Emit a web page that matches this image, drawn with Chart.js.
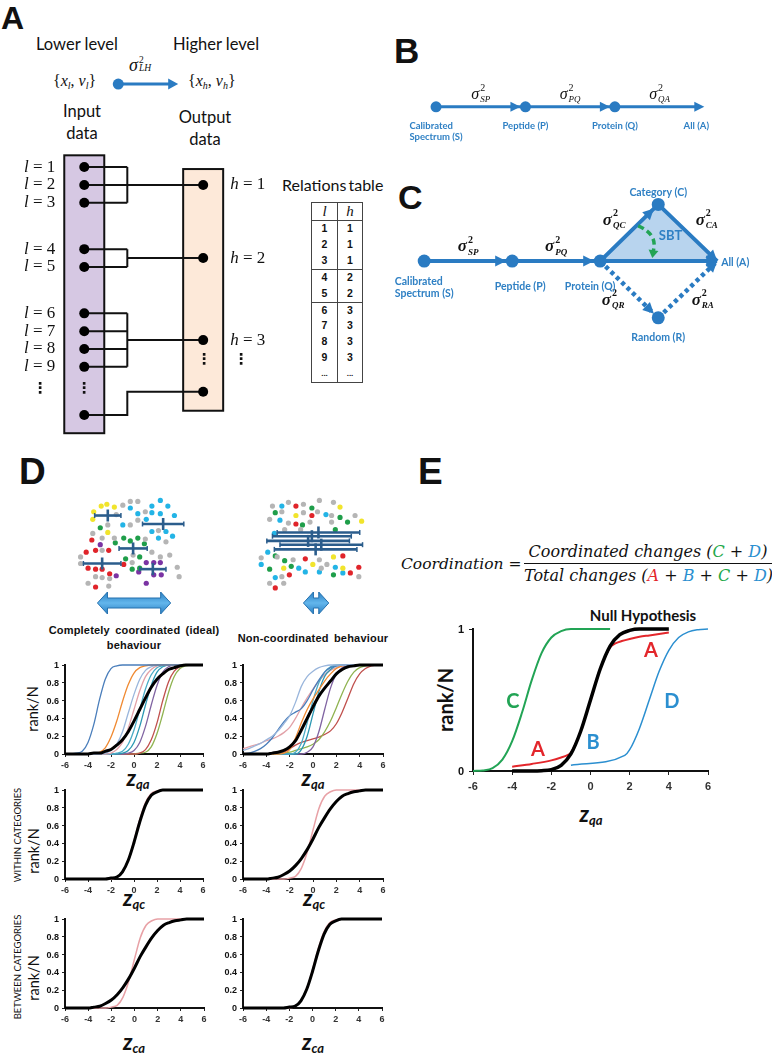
<!DOCTYPE html>
<html lang="en">
<head>
<meta charset="utf-8">
<title>Coordination figure</title>
<script src="https://cdn.jsdelivr.net/npm/chart.js@4.4.1/dist/chart.umd.min.js"></script>
<style>
html,body{margin:0;padding:0;background:#fff}
body{width:772px;height:1055px;position:relative;overflow:hidden;color:#111;font-family:'Liberation Sans',Arial,sans-serif}
.p{position:absolute;white-space:nowrap;line-height:1}
.cc{transform:translate(-50%,-50%)}
.lc{transform:translateY(-50%)}
.rot{transform:translate(-50%,-50%) rotate(-90deg)}
.let{font-weight:bold;font-family:'Liberation Sans',Arial,sans-serif}
.cal{font-family:Lato,'Open Sans',sans-serif}
.ser{font-family:'Liberation Serif','Times New Roman',serif}
.zl{font-family:Lato,sans-serif;font-weight:bold;font-style:italic;font-size:22px}
.zl sub{font-size:13px;vertical-align:-3px}
.dt{font-weight:bold;font-size:11px;word-spacing:2px;letter-spacing:0.2px}
.fm{font-family:'DejaVu Serif',serif;font-style:italic;font-size:16px}
.yl{position:absolute;white-space:nowrap;line-height:1;text-align:right;width:24px;color:#111;font-weight:bold;font-family:'Liberation Sans',Arial,sans-serif;transform:translateY(-50%);z-index:5}
table.rel{position:absolute;left:311px;top:202px;border-collapse:collapse;border:1.2px solid #444;font:bold 10.5px 'Liberation Sans',Arial,sans-serif}
table.rel td,table.rel th{padding:0;text-align:center;height:15.9px;line-height:15.9px}
canvas{position:absolute}
</style>
</head>
<body>
<!-- panel letters -->
<div class="p lc let" style="left:1px;top:18px;font-size:32px">A</div>
<div class="p lc let" style="left:394px;top:50px;font-size:35px">B</div>
<div class="p lc let" style="left:398px;top:197px;font-size:34px">C</div>
<div class="p lc let" style="left:19px;top:471px;font-size:37px">D</div>
<div class="p lc let" style="left:418px;top:471px;font-size:37px">E</div>

<!-- panel A texts -->
<div class="p lc cal" style="left:36px;top:44px;font-size:16.5px">Lower level</div>
<div class="p lc cal" style="left:173px;top:44px;font-size:16.5px">Higher level</div>
<div class="p lc ser" style="left:53px;top:82px;font-size:16px">{<i>x</i><span style="font-size:10px;vertical-align:-3px"><i>l</i></span>, <i>v</i><span style="font-size:10px;vertical-align:-3px"><i>l</i></span>}</div>
<div class="p lc ser" style="left:188px;top:82px;font-size:16px">{<i>x</i><span style="font-size:10px;vertical-align:-3px"><i>h</i></span>, <i>v</i><span style="font-size:10px;vertical-align:-3px"><i>h</i></span>}</div>
<div class="p ser" style="left:129px;top:56px;font-size:18px"><i>σ</i><span style="display:inline-block;vertical-align:top;line-height:8px;font-size:9.5px;margin-left:1px"><span style="display:block">2</span><span style="display:block;font-style:italic">LH</span></span></div>
<div class="p cc cal" style="left:82px;top:111px;font-size:16.5px">Input</div>
<div class="p cc cal" style="left:82px;top:133px;font-size:16.5px">data</div>
<div class="p cc cal" style="left:205px;top:117px;font-size:16.5px">Output</div>
<div class="p cc cal" style="left:205px;top:139px;font-size:16.5px">data</div>
<div class="p lc cal" style="left:282px;top:185px;font-size:16px;word-spacing:-2px">Relations table</div>

<!-- panel D texts -->
<div class="p cc dt" style="left:134px;top:630px">Completely coordinated (ideal)</div>
<div class="p cc dt" style="left:134px;top:645px">behaviour</div>
<div class="p cc dt" style="left:313px;top:638px">Non-coordinated behaviour</div>
<div class="p rot cal" style="left:33px;top:709px;font-size:14.5px">rank/N</div>
<div class="p rot cal" style="left:34px;top:851px;font-size:14.5px">rank/N</div>
<div class="p rot cal" style="left:34px;top:978px;font-size:14.5px">rank/N</div>
<div class="p rot cal" style="left:18px;top:835px;font-size:9.5px">WITHIN CATEGORIES</div>
<div class="p rot cal" style="left:18px;top:967px;font-size:9.5px">BETWEEN CATEGORIES</div>
<div class="p cc zl" style="left:138px;top:779px">z<sub>qa</sub></div>
<div class="p cc zl" style="left:313px;top:779px">z<sub>qa</sub></div>
<div class="p cc zl" style="left:134px;top:899px">z<sub>qc</sub></div>
<div class="p cc zl" style="left:314px;top:899px">z<sub>qc</sub></div>
<div class="p cc zl" style="left:134px;top:1043px">z<sub>ca</sub></div>
<div class="p cc zl" style="left:313px;top:1043px">z<sub>ca</sub></div>

<!-- panel E texts -->
<div class="p lc fm" style="left:401px;top:565px;font-size:15.5px">Coordination <span style="font-style:normal">=</span></div>
<div class="p fm" style="left:524px;top:541px;width:248px;text-align:center">
  <div style="height:22px;line-height:22px;border-bottom:1.5px solid #111">Coordinated changes (<span style="color:#22a84a">C</span> + <span style="color:#2a8fd0">D</span>)</div>
  <div style="height:24px;line-height:24px">Total changes (<span style="color:#e3262b">A</span> + <span style="color:#2a8fd0">B</span> + <span style="color:#22a84a">C</span> + <span style="color:#2a8fd0">D</span>)</div>
</div>
<div class="p cc cal" style="left:643px;top:615px;font-size:15px;font-weight:bold">Null Hypothesis</div>
<div class="p rot cal" style="left:445px;top:700px;font-size:20px;font-weight:bold">rank/N</div>
<div class="p cc zl" style="left:591px;top:815px">z<sub>qa</sub></div>

<script>
// ======================= DATA =======================
// Panel A – relations table (lower level l -> higher level h)
const lowerIds      = [1, 2, 3, 4, 5, 6, 7, 8, 9];
const higherOfLower = [1, 1, 1, 2, 2, 3, 3, 3, 3];

// Panel B – quantification workflow
const stagesB   = ['Calibrated\nSpectrum (S)', 'Peptide (P)', 'Protein (Q)', 'All (A)'];
const varianceB = ['SP', 'PQ', 'QA'];

// Panel C – systems biology triangle
const nodesC      = ['S', 'P', 'Q', 'C', 'R', 'A'];
const nodeLabelsC = ['Calibrated\nSpectrum (S)', 'Peptide (P)', 'Protein (Q)', 'Category (C)', 'Random (R)', 'All (A)'];
const nodeXC      = [0, 1, 2, 2.66, 2.66, 3.33];
const nodeYC      = [0, 0, 0, 1, -1, 0];
const edgeFromC   = ['S', 'P', 'Q', 'Q', 'C', 'Q', 'R'];
const edgeToC     = ['P', 'Q', 'A', 'C', 'A', 'R', 'A'];
const edgeDottedC = [false, false, false, false, false, true, true];
const edgeSigmaC  = ['SP', 'PQ', '', 'QC', 'CA', 'QR', 'RA'];

// Panel D – protein clouds (coordinated, left)
const coYellow = [[24,97],[30,99],[38,96],[16,91],[15,83],[31,69]];
const coGrey   = [[47,98],[55,102],[63,102],[40,88],[71,91],[63,82],[31,77],[15,68],[25,63],[38,63],[55,77],[85,71],[71,62],[93,59],[25,50],[78,48],[2,43],[58,45],[87,43],[97,45],[2,36],[57,37],[105,32],[107,22],[18,22],[25,21],[33,20],[10,15],[32,12]];
const coCyan   = [[87,103],[55,95],[78,97],[95,97],[63,89],[78,90],[87,89],[102,87],[47,77],[72,83],[78,70],[93,70],[100,65],[85,63]];
const coGreen  = [[23,74],[39,58],[48,63],[55,60],[63,63],[70,57],[50,41],[65,43],[57,30],[65,31]];
const coRed    = [[14,61],[8,48],[18,50],[32,50],[10,31],[18,30],[25,30],[33,25],[48,35],[18,11]];
const coPurple = [[23,56],[72,37],[80,37],[87,37],[64,27],[80,24],[88,24],[40,23],[72,15]];
const coBarY    = [87, 78, 52, 36, 30];
const coBarMean = [31, 90, 58, 25, 79];
const coBarSD   = [14, 22, 15, 20, 14];
// Panel D – protein clouds (non-coordinated, right)
const ncGreyPts   = [[20,97],[37,101],[53,99],[70,103],[85,101],[30,91],[53,90],[68,91],[83,87],[108,87],[17,83],[37,79],[60,80],[83,80],[33,72],[50,72],[8,42],[25,43],[42,40],[70,40],[78,35],[72,31],[30,22],[112,22],[17,15],[32,15]];
const ncCyanPts   = [[30,97],[77,88],[28,82],[22,68],[15,48],[8,35],[48,31],[87,32],[55,27],[70,27],[95,26],[23,21]];
const ncRedPts    = [[45,97],[62,87],[45,78],[55,41],[95,44],[38,24],[103,26],[112,32],[23,10]];
const ncGreenPts  = [[62,95],[23,90],[92,85],[52,77],[100,80],[87,72],[23,44],[33,39],[17,30],[40,33],[85,24]];
const ncYellowPts = [[92,96],[45,87],[115,81],[85,43],[32,31],[63,35],[95,31]];
const ncBarY    = [69, 65, 60, 56, 51];
const ncBarMean = [69, 62, 58, 72, 66];
const ncBarSD   = [44, 42, 44, 44, 44];

// Panel D – cumulative rank/N curves
const zGrid = [-6,-5.5,-5,-4.5,-4,-3.5,-3,-2.5,-2,-1.5,-1,-0.5,0,0.5,1,1.5,2,2.5,3,3.5,4,4.5,5,5.5,6];
const xTickVals = [-6,-4,-2,0,2,4,6];
const yTickVals = [0,0.2,0.4,0.6,0.8,1];
// coordinated, z_qa
const coBlue      = [0,0,0.01,0.03,0.13,0.33,0.61,0.84,0.96,0.99,1,1,1,1,1,1,1,1,1,1,1,1,1,1,1];
const coOrange    = [0,0,0,0,0,0.01,0.02,0.07,0.19,0.37,0.59,0.78,0.91,0.97,0.99,1,1,1,1,1,1,1,1,1,1];
const coLightBlue = [0,0,0,0,0,0,0,0.01,0.04,0.11,0.25,0.46,0.67,0.84,0.94,0.98,1,1,1,1,1,1,1,1,1];
const coPink      = [0,0,0,0,0,0,0,0,0.01,0.05,0.13,0.29,0.5,0.71,0.87,0.95,0.99,1,1,1,1,1,1,1,1];
const coTeal      = [0,0,0,0,0,0,0,0,0,0.01,0.03,0.11,0.27,0.5,0.73,0.89,0.97,0.99,1,1,1,1,1,1,1];
const coCyanLine  = [0,0,0,0,0,0,0,0,0,0,0.01,0.04,0.13,0.31,0.55,0.77,0.92,0.98,1,1,1,1,1,1,1];
const coPurpleLn  = [0,0,0,0,0,0,0,0,0,0,0,0.01,0.04,0.13,0.31,0.55,0.77,0.92,0.98,1,1,1,1,1,1];
const coRedLine   = [0,0,0,0,0,0,0,0,0,0,0,0,0,0.01,0.05,0.16,0.35,0.6,0.81,0.93,0.98,1,1,1,1];
const coGreenLine = [0,0,0,0,0,0,0,0,0,0,0,0,0,0.01,0.02,0.08,0.23,0.45,0.69,0.87,0.96,0.99,1,1,1];
const coBlack     = [0,0,0,0,0,0.01,0.01,0.03,0.05,0.1,0.16,0.25,0.37,0.5,0.63,0.75,0.84,0.9,0.95,0.97,0.99,1,1,1,1];
// non-coordinated, z_qa
const ncLightBlue = [0.04,0.06,0.09,0.12,0.16,0.2,0.26,0.34,0.43,0.58,0.76,0.87,0.93,0.97,0.99,1,1,1,1,1,1,1,1,1,1];
const ncBlue      = [0,0.01,0.03,0.06,0.11,0.18,0.27,0.36,0.43,0.47,0.51,0.6,0.72,0.83,0.92,0.97,0.99,1,1,1,1,1,1,1,1];
const ncOrange    = [0,0,0,0,0,0,0,0.01,0.05,0.18,0.35,0.5,0.62,0.72,0.82,0.9,0.96,0.99,1,1,1,1,1,1,1];
const ncBlack     = [0,0,0,0,0,0.01,0.02,0.04,0.08,0.15,0.27,0.4,0.53,0.65,0.74,0.82,0.9,0.95,0.98,0.99,1,1,1,1,1];
const ncTeal      = [0,0,0,0,0,0,0,0,0,0.02,0.12,0.35,0.6,0.8,0.92,0.98,1,1,1,1,1,1,1,1,1];
const ncCyan      = [0,0,0,0,0,0,0,0,0,0,0.05,0.2,0.45,0.7,0.87,0.95,0.99,1,1,1,1,1,1,1,1];
const ncPurple    = [0,0,0,0,0,0,0,0,0,0,0,0.02,0.08,0.25,0.5,0.74,0.9,0.97,1,1,1,1,1,1,1];
const ncGreen     = [0,0,0,0,0,0,0,0.01,0.02,0.04,0.06,0.08,0.11,0.16,0.25,0.37,0.52,0.68,0.82,0.92,0.97,0.99,1,1,1];
const ncRed       = [0,0,0,0,0,0,0,0.02,0.06,0.1,0.13,0.15,0.17,0.19,0.22,0.26,0.34,0.47,0.63,0.79,0.9,0.96,0.99,1,1];
const ncPink      = [0.06,0.08,0.1,0.12,0.15,0.17,0.2,0.24,0.3,0.4,0.52,0.63,0.73,0.82,0.89,0.94,0.97,0.99,1,1,1,1,1,1,1];
// within / between categories (coordinated = matching, non-coordinated = wider)
const fitBlack    = [0,0,0,0,0,0,0,0,0.01,0.02,0.08,0.21,0.41,0.64,0.83,0.94,0.98,1,1,1,1,1,1,1,1];
const fitPink     = [0,0,0,0,0,0,0,0,0,0.02,0.08,0.21,0.43,0.67,0.86,0.96,0.99,1,1,1,1,1,1,1,1];
const wideBlack   = [0,0,0,0,0,0.01,0.02,0.05,0.09,0.15,0.23,0.33,0.45,0.58,0.69,0.79,0.87,0.93,0.96,0.98,0.99,1,1,1,1];
const narrowPink  = [0,0,0,0,0,0,0,0,0.01,0.03,0.12,0.3,0.55,0.79,0.93,0.98,1,1,1,1,1,1,1,1,1];

// Panel E – null hypothesis and deviations
const eNullX = [-4,-3.5,-3,-2.5,-2,-1.5,-1,-0.5,0,0.5,1,1.5,2,2.5,3,3.5,4];
const eNullY = [0,0,0,0.002,0.01,0.04,0.12,0.28,0.5,0.72,0.88,0.96,0.99,1,1,1,1];
const eAX = [-4,-3,-2,-1.5,-1.2,-1,-0.5,0,0.5,1,1.3,1.6,2,2.5,3,3.5,4];
const eAY = [0.03,0.05,0.075,0.095,0.11,0.13,0.28,0.5,0.72,0.87,0.9,0.915,0.93,0.945,0.955,0.965,0.975];
const eCX = [-6,-5.5,-5,-4.5,-4,-3.5,-3,-2.5,-2,-1.5,-1,-0.5,0,0.5,1];
const eCY = [0,0.004,0.02,0.08,0.21,0.41,0.64,0.83,0.94,0.985,1,1,1,1,1];
const eDX = [-1,1.75,2,2.5,3,3.5,4,4.5,5,5.5,6];
const eDY = [0.04,0.11,0.15,0.3,0.5,0.7,0.85,0.94,0.98,0.995,1];
const eYTickVals = [0,1];
const eLabels  = ['C','A','B','A','D'];
const eLabelX  = [-3.96,-2.68,0.13,3.09,4.16];
const eLabelY  = [0.49,0.15,0.2,0.85,0.49];

// ======================= HELPERS =======================
const BLUE = '#2a7bc2', LBLUE = '#2f80c4';
Chart.defaults.font.family = "'Liberation Sans', Arial, sans-serif";
Chart.defaults.animation = false;
Chart.defaults.events = [];
Chart.defaults.plugins.legend.display = false;
Chart.defaults.plugins.tooltip.enabled = false;

function mkCanvas(l, t, w, h) {
  const c = document.createElement('canvas');
  c.width = w; c.height = h;
  c.style.cssText = `left:${l}px;top:${t}px;width:${w}px;height:${h}px`;
  document.body.appendChild(c);
  return c;
}
function hiddenScales(xmin, xmax, ymin, ymax, rev) {
  return {
    x: {type: 'linear', display: false, min: xmin, max: xmax},
    y: {type: 'linear', display: false, min: ymin, max: ymax, reverse: !!rev}
  };
}
function baseOpts(scales) {
  return {responsive: false, animation: false, devicePixelRatio: 1,
    layout: {padding: 0}, scales, plugins: {legend: {display: false}, tooltip: {enabled: false}}};
}
function arrowHead(ctx, x0, y0, x1, y1, len, half, color) {
  const a = Math.atan2(y1 - y0, x1 - x0), c = Math.cos(a), s = Math.sin(a);
  ctx.save(); ctx.fillStyle = color; ctx.beginPath();
  ctx.moveTo(x1, y1);
  ctx.lineTo(x1 - len * c + half * s, y1 - len * s - half * c);
  ctx.lineTo(x1 - len * c - half * s, y1 - len * s + half * c);
  ctx.closePath(); ctx.fill(); ctx.restore();
}
function drawSigma(ctx, cx, cy, sub, size, bold) {
  const b = bold ? 'bold ' : '';
  const fSig = `${b}italic ${size}px 'Liberation Serif'`;
  const fSup = `${b}${Math.round(size * 0.6)}px 'Liberation Serif'`;
  const fSub = `${b}italic ${Math.round(size * 0.55)}px 'Liberation Serif'`;
  ctx.save(); ctx.fillStyle = '#111'; ctx.textBaseline = 'alphabetic'; ctx.textAlign = 'left';
  ctx.font = fSig; const w1 = ctx.measureText('σ').width;
  ctx.font = fSub; const w2 = ctx.measureText(sub).width;
  const x0 = cx - (w1 + 1 + w2) / 2, base = cy + size * 0.25;
  ctx.font = fSig; ctx.fillText('σ', x0, base);
  ctx.font = fSup; ctx.fillText('2', x0 + w1 + 1, base - size * 0.5);
  ctx.font = fSub; ctx.fillText(sub, x0 + w1 + 1, base + size * 0.2);
  ctx.restore();
}
function blockLabel(ctx, text, cx, y, font, color, lh) {
  const lines = text.split('\n');
  ctx.save(); ctx.font = font; ctx.fillStyle = color; ctx.textAlign = 'left'; ctx.textBaseline = 'middle';
  const w = Math.max(...lines.map(s => ctx.measureText(s).width));
  lines.forEach((s, i) => ctx.fillText(s, cx - w / 2, y + i * lh));
  ctx.restore();
}
function eqLabel(ctx, v, n, x, y, align) {
  ctx.save(); ctx.fillStyle = '#111'; ctx.textBaseline = 'middle'; ctx.textAlign = 'left';
  const fi = "italic 17px 'Liberation Serif'", fr = "17px 'Liberation Serif'";
  ctx.font = fi; const w1 = ctx.measureText(v).width;
  const rest = ' = ' + n;
  ctx.font = fr; const w2 = ctx.measureText(rest).width;
  const x0 = align === 'right' ? x - w1 - w2 : x;
  ctx.font = fi; ctx.fillText(v, x0, y);
  ctx.font = fr; ctx.fillText(rest, x0 + w1, y);
  ctx.restore();
}
function vdots(ctx, x, y) {
  ctx.save(); ctx.fillStyle = '#111'; ctx.font = "bold 15px 'DejaVu Sans'";
  ctx.textAlign = 'center'; ctx.textBaseline = 'middle'; ctx.fillText('⋮', x, y); ctx.restore();
}

// ======================= PANEL A =======================
(function () {
  const COL_IN = 0, COL_BR = 0.362, COL_OUT = 1, GAP = 1.6;
  const slotL = lowerIds.map((l, i) => (l - 1) + GAP * (higherOfLower[i] - 1));
  const hIds = [...new Set(higherOfLower)];
  const slotH = hIds.map(h => {
    const s = slotL.filter((_, i) => higherOfLower[i] === h);
    return s.reduce((a, b) => a + b, 0) / s.length;
  });
  const lastL = slotL[slotL.length - 1], lastH = slotH[slotH.length - 1];
  const tailL = lastL + 2.7, tailH = lastH + 2.9;
  const conn = [];
  hIds.forEach((h, k) => {
    const idx = lowerIds.map((_, i) => i).filter(i => higherOfLower[i] === h);
    idx.forEach(i => conn.push({x: COL_IN, y: slotL[i]}, {x: COL_BR, y: slotL[i]}, {x: COL_BR, y: null}));
    const ys = idx.map(i => slotL[i]);
    conn.push({x: COL_BR, y: Math.min(...ys)}, {x: COL_BR, y: Math.max(...ys)}, {x: COL_BR, y: null});
    conn.push({x: COL_BR, y: slotH[k]}, {x: COL_OUT, y: slotH[k]}, {x: COL_OUT, y: null});
  });
  conn.push({x: COL_IN, y: tailL}, {x: COL_BR, y: tailL}, {x: COL_BR, y: tailH}, {x: COL_OUT, y: tailH});
  const inDots = slotL.map(s => ({x: COL_IN, y: s})).concat([{x: COL_IN, y: tailL}]);
  const outDots = slotH.map(s => ({x: COL_OUT, y: s})).concat([{x: COL_OUT, y: tailH}]);

  const W = 300, H = 395, TOP = 50;
  const xmin = -82 / 123, xmax = xmin + W / 123;
  const ymin = -(165 - TOP) / 18.3, ymax = ymin + H / 18.3;
  const cv = mkCanvas(0, TOP, W, H);
  const plug = {
    id: 'panelA',
    beforeDatasetsDraw(chart) {
      const ctx = chart.ctx, X = v => chart.scales.x.getPixelForValue(v), Y = v => chart.scales.y.getPixelForValue(v);
      ctx.save(); ctx.lineWidth = 2; ctx.strokeStyle = '#111';
      let y0 = Y(slotL[0] - 0.66), y1 = Y(tailL + 1.02);
      ctx.fillStyle = '#d6c8e3'; ctx.fillRect(X(COL_IN) - 20, y0, 40, y1 - y0); ctx.strokeRect(X(COL_IN) - 20, y0, 40, y1 - y0);
      y0 = Y(slotH[0] - 0.89); y1 = Y(tailH + 1.06);
      ctx.fillStyle = '#fde9d9'; ctx.fillRect(X(COL_OUT) - 20, y0, 40, y1 - y0); ctx.strokeRect(X(COL_OUT) - 20, y0, 40, y1 - y0);
      ctx.restore();
    },
    afterDatasetsDraw(chart) {
      const ctx = chart.ctx, X = v => chart.scales.x.getPixelForValue(v), Y = v => chart.scales.y.getPixelForValue(v);
      lowerIds.forEach((l, i) => eqLabel(ctx, 'l', l, X(COL_IN) - 29, Y(slotL[i]), 'right'));
      hIds.forEach((h, k) => eqLabel(ctx, 'h', h, X(COL_OUT) + 27, Y(slotH[k]), 'left'));
      const midL = Y((lastL + tailL) / 2) - 2, midH = Y((lastH + tailH) / 2) - 6;
      vdots(ctx, X(COL_IN) - 44, midL); vdots(ctx, X(COL_IN), midL);
      vdots(ctx, X(COL_OUT) + 1, midH); vdots(ctx, X(COL_OUT) + 38, midH);
      // Lower -> higher arrow
      const ay = Y(0) - 83, ax0 = X(COL_IN) + 34, ax1 = X(COL_OUT) - 25;
      ctx.save(); ctx.strokeStyle = BLUE; ctx.lineWidth = 3;
      ctx.beginPath(); ctx.moveTo(ax0, ay); ctx.lineTo(ax1 - 6, ay); ctx.stroke();
      arrowHead(ctx, ax0, ay, ax1, ay, 10, 5.5, BLUE);
      ctx.fillStyle = BLUE; ctx.beginPath(); ctx.arc(ax0, ay, 5.5, 0, Math.PI * 2); ctx.fill();
      ctx.restore();
    }
  };
  new Chart(cv, {
    type: 'scatter',
    data: {datasets: [
      {data: inDots, pointRadius: 5, backgroundColor: '#000', borderWidth: 0},
      {data: outDots, pointRadius: 5, backgroundColor: '#000', borderWidth: 0},
      {data: conn, showLine: true, pointRadius: 0, borderColor: '#111', borderWidth: 2, spanGaps: false}
    ]},
    options: baseOpts(hiddenScales(xmin, xmax, ymin, ymax, true)),
    plugins: [plug]
  });

  // relations table built from the same arrays
  const tbl = document.createElement('table'); tbl.className = 'rel';
  const bd = '1.2px solid #444';
  let html = `<tr><th style="width:25px;height:15px;line-height:15px;font:italic 15px 'Liberation Serif';border-bottom:${bd}">l</th><th style="width:24px;height:15px;line-height:15px;font:italic 15px 'Liberation Serif';border-left:${bd};border-bottom:${bd}">h</th></tr>`;
  lowerIds.forEach((l, i) => {
    const sep = i + 1 < lowerIds.length && higherOfLower[i + 1] !== higherOfLower[i];
    const bb = sep ? `border-bottom:${bd};` : '';
    html += `<tr><td style="${bb}">${l}</td><td style="border-left:${bd};${bb}">${higherOfLower[i]}</td></tr>`;
  });
  html += `<tr><td style="font-size:8px">...</td><td style="border-left:${bd};font-size:8px">...</td></tr>`;
  tbl.innerHTML = html; document.body.appendChild(tbl);
})();

// ======================= PANEL B =======================
(function () {
  const cv = mkCanvas(380, 55, 392, 100);
  const xmin = -52 / 92, xmax = 340 / 92;
  const pts = stagesB.map((_, i) => ({x: i, y: 0}));
  const dots = pts.slice(0, -1);
  const plug = {
    id: 'panelB',
    afterDatasetsDraw(chart) {
      const ctx = chart.ctx, X = v => chart.scales.x.getPixelForValue(v), py = chart.scales.y.getPixelForValue(0);
      for (let i = 1; i < stagesB.length; i++) {
        const tip = X(i) - (i < stagesB.length - 1 ? 5 : 0);
        arrowHead(ctx, X(i - 1), py, tip, py, 10, 5, BLUE);
      }
      varianceB.forEach((v, i) => drawSigma(ctx, (X(i) + X(i + 1)) / 2, py - 12, v, 16, false));
      stagesB.forEach((s, i) => blockLabel(ctx, s, X(i) + (i === stagesB.length - 1 ? -8 : 0), py + 19, "bold 9.5px Lato", LBLUE, 11.5));
    }
  };
  new Chart(cv, {
    type: 'scatter',
    data: {datasets: [
      {data: dots, pointRadius: 5.5, backgroundColor: BLUE, borderWidth: 0},
      {data: [pts[0], {x: stagesB.length - 1 - 0.06, y: 0}], showLine: true, pointRadius: 0, borderColor: BLUE, borderWidth: 3}
    ]},
    options: baseOpts(hiddenScales(xmin, xmax, -0.96, 1.04)),
    plugins: [plug]
  });
})();

// ======================= PANEL C =======================
(function () {
  const cv = mkCanvas(380, 170, 392, 185);
  const xmin = (380 - 419) / 91, xmax = (772 - 419) / 91;
  const ymax = 91 / 61, ymin = -(355 - 261) / 61;
  const idx = n => nodesC.indexOf(n);
  const hasDot = nodesC.map(n => edgeFromC.includes(n));
  const solid = [], dotted = [];
  edgeFromC.forEach((f, i) => {
    const a = idx(f), b = idx(edgeToC[i]);
    const arr = edgeDottedC[i] ? dotted : solid;
    arr.push({x: nodeXC[a], y: nodeYC[a]}, {x: nodeXC[b], y: nodeYC[b]}, {x: nodeXC[b], y: null});
  });
  const dots = nodesC.map((n, i) => ({x: nodeXC[i], y: nodeYC[i]})).filter((_, i) => hasDot[i]);
  const sigOff = {SP: [0, -14], PQ: [0, -14], QC: [-15, -12], CA: [19, -12], QR: [-16, 11], RA: [15, 11]};
  const plug = {
    id: 'panelC',
    beforeDatasetsDraw(chart) {
      const ctx = chart.ctx, X = v => chart.scales.x.getPixelForValue(v), Y = v => chart.scales.y.getPixelForValue(v);
      const q = idx('Q'), c = idx('C'), a = idx('A');
      ctx.save(); ctx.fillStyle = '#b8d4ee'; ctx.beginPath();
      ctx.moveTo(X(nodeXC[q]), Y(nodeYC[q])); ctx.lineTo(X(nodeXC[c]), Y(nodeYC[c])); ctx.lineTo(X(nodeXC[a]), Y(nodeYC[a]));
      ctx.closePath(); ctx.fill(); ctx.restore();
    },
    afterDatasetsDraw(chart) {
      const ctx = chart.ctx, X = v => chart.scales.x.getPixelForValue(v), Y = v => chart.scales.y.getPixelForValue(v);
      edgeFromC.forEach((f, i) => {
        const a = idx(f), b = idx(edgeToC[i]);
        const x0 = X(nodeXC[a]), y0 = Y(nodeYC[a]), x1 = X(nodeXC[b]), y1 = Y(nodeYC[b]);
        const L = Math.hypot(x1 - x0, y1 - y0), r = hasDot[b] ? 6 : 0;
        arrowHead(ctx, x0, y0, x1 - (x1 - x0) / L * r, y1 - (y1 - y0) / L * r, 11, 5.5, BLUE);
        if (edgeSigmaC[i]) {
          const o = sigOff[edgeSigmaC[i]];
          drawSigma(ctx, (x0 + x1) / 2 + o[0], (y0 + y1) / 2 + o[1], edgeSigmaC[i], 17, true);
        }
      });
      const F = "bold 10.5px Lato";
      const px = i => X(nodeXC[i]), py = i => Y(nodeYC[i]);
      blockLabel(ctx, nodeLabelsC[0], px(0), py(0) + 21, F, LBLUE, 12);
      blockLabel(ctx, nodeLabelsC[1], px(1) + 8, py(1) + 26, F, LBLUE, 12);
      blockLabel(ctx, nodeLabelsC[2], px(2) - 10, py(2) + 26, F, LBLUE, 12);
      blockLabel(ctx, nodeLabelsC[3], px(3), py(3) - 12, F, LBLUE, 12);
      blockLabel(ctx, nodeLabelsC[4], px(4), py(4) + 20, F, LBLUE, 12);
      ctx.save(); ctx.font = F; ctx.fillStyle = LBLUE; ctx.textBaseline = 'middle';
      ctx.fillText(nodeLabelsC[5], px(5) + 4, py(5) + 2); ctx.restore();
      // SBT label at triangle centroid
      const q = idx('Q'), c = idx('C'), a = idx('A');
      const gx = (px(q) + px(c) + px(a)) / 3, gy = (py(q) + py(c) + py(a)) / 3;
      ctx.save(); ctx.font = "bold 13px Lato"; ctx.fillStyle = LBLUE; ctx.textAlign = 'center'; ctx.textBaseline = 'middle';
      ctx.fillText('SBT', gx + 12, gy - 6); ctx.restore();
      // green dashed arrow from the QC edge to the QA edge
      const sx = px(q) + 0.62 * (px(c) - px(q)), sy = py(q) + 0.62 * (py(c) - py(q));
      const ex = px(q) + 0.45 * (px(a) - px(q)), ey = py(q) - 9;
      const cx = ex + 6, cy = sy + 9;
      ctx.save(); ctx.strokeStyle = '#22a455'; ctx.lineWidth = 3.5; ctx.setLineDash([6, 4]);
      ctx.beginPath(); ctx.moveTo(sx + 2, sy); ctx.quadraticCurveTo(cx, cy, ex, ey); ctx.stroke(); ctx.restore();
      arrowHead(ctx, ex + 1, ey - 4, ex - 0.5, ey + 6, 8, 5, '#22a455');
    }
  };
  new Chart(cv, {
    type: 'scatter',
    data: {datasets: [
      {data: dots, pointRadius: 6.5, backgroundColor: BLUE, borderWidth: 0},
      {data: solid, showLine: true, pointRadius: 0, borderColor: BLUE, borderWidth: 4},
      {data: dotted, showLine: true, pointRadius: 0, borderColor: BLUE, borderWidth: 4.5, borderDash: [4, 3.5]}
    ]},
    options: baseOpts(hiddenScales(xmin, xmax, ymin, ymax)),
    plugins: [plug]
  });
})();

// ======================= PANEL D clouds =======================
function cloudChart(left, top, groups, barY, barMean, barSD) {
  const cv = mkCanvas(left, top, 130, 135);
  const plug = {
    id: 'cloud',
    afterDatasetsDraw(chart) {
      const ctx = chart.ctx, X = v => chart.scales.x.getPixelForValue(v), Y = v => chart.scales.y.getPixelForValue(v);
      ctx.save(); ctx.strokeStyle = '#2b5d8c'; ctx.lineWidth = 2.6;
      barY.forEach((y, i) => {
        const py = Y(y), a = X(barMean[i] - barSD[i]), b = X(barMean[i] + barSD[i]), m = X(barMean[i]);
        ctx.beginPath(); ctx.moveTo(a, py); ctx.lineTo(b, py); ctx.stroke();
        ctx.beginPath(); ctx.moveTo(m, py - 6); ctx.lineTo(m, py + 6); ctx.stroke();
        ctx.lineWidth = 1.5;
        [a, b].forEach(e => { ctx.beginPath(); ctx.moveTo(e, py - 2.5); ctx.lineTo(e, py + 2.5); ctx.stroke(); });
        ctx.lineWidth = 2.6;
      });
      ctx.restore();
      // double block arrow spanning the spread of category means
      const xa = X(Math.min(...barMean) - 5), xb = X(Math.max(...barMean) + 8), yc = Y(-6);
      const hl = 10, hh = 11, sh = 5;
      const g = ctx.createLinearGradient(0, yc - hh, 0, yc + hh);
      g.addColorStop(0, '#2a7fc2'); g.addColorStop(0.5, '#63b6ec'); g.addColorStop(1, '#2a7fc2');
      ctx.save(); ctx.fillStyle = g; ctx.strokeStyle = '#2470ae'; ctx.lineWidth = 1;
      ctx.beginPath();
      ctx.moveTo(xa, yc); ctx.lineTo(xa + hl, yc - hh); ctx.lineTo(xa + hl, yc - sh); ctx.lineTo(xb - hl, yc - sh);
      ctx.lineTo(xb - hl, yc - hh); ctx.lineTo(xb, yc); ctx.lineTo(xb - hl, yc + hh); ctx.lineTo(xb - hl, yc + sh);
      ctx.lineTo(xa + hl, yc + sh); ctx.lineTo(xa + hl, yc + hh); ctx.closePath(); ctx.fill(); ctx.stroke();
      ctx.restore();
    }
  };
  new Chart(cv, {
    type: 'scatter',
    data: {datasets: groups.map(gp => ({data: gp[0].map(p => ({x: p[0], y: p[1]})), pointRadius: 2.6, backgroundColor: gp[1], borderWidth: 0}))},
    options: baseOpts(hiddenScales(-5, 125, -23, 112)),
    plugins: [plug]
  });
}
cloudChart(70, 488, [[coGrey, '#b5b5b5'], [coYellow, '#f1e42c'], [coCyan, '#23b4e6'], [coGreen, '#1f9e4a'], [coRed, '#e0242a'], [coPurple, '#7a33a3']], coBarY, coBarMean, coBarSD);
cloudChart(245, 488, [[ncGreyPts, '#b5b5b5'], [ncYellowPts, '#f1e42c'], [ncCyanPts, '#23b4e6'], [ncGreenPts, '#1f9e4a'], [ncRedPts, '#e0242a']], ncBarY, ncBarMean, ncBarSD);

// ======================= CDF charts =======================
function cdfChart(plot, series, o) {
  const L = plot.l - o.yw, T = plot.t - o.top, R = plot.r + o.right, B = plot.b + o.xh;
  const cv = mkCanvas(L, T, R - L, B - T);
  const tickFont = {family: "'Liberation Sans', Arial, sans-serif", weight: 'bold', size: o.fs};
  const grid = {display: true, drawOnChartArea: false, drawTicks: true, tickLength: o.tl, color: '#222', lineWidth: 1};
  const border = {display: true, color: '#111', width: 2};
  const xt = o.xt, yt = o.yt;
  const chart = new Chart(cv, {
    type: 'line',
    data: {datasets: series.map(s => ({
      data: s[0].map((x, i) => ({x, y: s[1][i]})), borderColor: s[2], borderWidth: s[3],
      pointRadius: 0, cubicInterpolationMode: 'monotone', fill: false, clip: 6
    }))},
    options: {
      responsive: false, animation: false, devicePixelRatio: 1,
      layout: {padding: {top: o.top, right: o.right, left: 0, bottom: 0}},
      scales: {
        x: {
          type: 'linear', position: 'bottom', min: xt[0], max: xt[xt.length - 1],
          afterFit: s => { s.height = o.xh; },
          afterBuildTicks: s => { s.ticks = xt.map(v => ({value: v})); },
          ticks: {font: tickFont, color: '#333', padding: o.pad, autoSkip: false, maxRotation: 0, callback: v => String(v)},
          grid, border
        },
        y: {
          type: 'linear', position: 'left', min: yt[0], max: yt[yt.length - 1],
          afterFit: s => { s.width = o.yw; },
          afterBuildTicks: s => { s.ticks = yt.map(v => ({value: v})); },
          ticks: {display: false},
          grid, border
        }
      }
    }
  });
  // y tick labels as text, placed with the y scale's own pixel mapping
  const ys = chart.scales.y, ca = chart.chartArea;
  yt.forEach(v => {
    const d = document.createElement('div');
    d.className = 'yl';
    d.textContent = String(v);
    d.style.left = (L + ca.left - o.tl - o.pad - 24) + 'px';
    d.style.top = (T + ys.getPixelForValue(v)) + 'px';
    d.style.fontSize = o.fs + 'px';
    document.body.appendChild(d);
  });
}
const dOpt = {yw: 45, xh: 16, top: 8, right: 8, fs: 9, pad: 3, tl: 3, xt: xTickVals, yt: yTickVals};
const Z = zGrid;
cdfChart({l: 65, t: 665, r: 203, b: 754}, [
  [Z, coBlack, '#000', 3],
  [Z, coBlue, '#4a7ebb', 1.3], [Z, coOrange, '#f08a32', 1.3], [Z, coLightBlue, '#9ab6dc', 1.3],
  [Z, coPink, '#e2a1a8', 1.3], [Z, coTeal, '#4bacc6', 1.3], [Z, coCyanLine, '#2b98b3', 1.3],
  [Z, coPurpleLn, '#8064a2', 1.3], [Z, coRedLine, '#c0504d', 1.3], [Z, coGreenLine, '#8fb350', 1.3]
], dOpt);
cdfChart({l: 243, t: 665, r: 383, b: 754}, [
  [Z, ncBlack, '#000', 3],
  [Z, ncLightBlue, '#9ab6dc', 1.3], [Z, ncBlue, '#4a7ebb', 1.3], [Z, ncOrange, '#f08a32', 1.3],
  [Z, ncTeal, '#4bacc6', 1.3], [Z, ncCyan, '#2b98b3', 1.3], [Z, ncPurple, '#8064a2', 1.3],
  [Z, ncGreen, '#8fb350', 1.3], [Z, ncRed, '#c0504d', 1.3], [Z, ncPink, '#e2a1a8', 1.3]
], dOpt);
cdfChart({l: 65, t: 790, r: 203, b: 879}, [[Z, fitBlack, '#000', 3], [Z, fitPink, '#e8a1a6', 1.5]], dOpt);
cdfChart({l: 243, t: 790, r: 383, b: 879}, [[Z, wideBlack, '#000', 3], [Z, narrowPink, '#e8a1a6', 1.5]], dOpt);
cdfChart({l: 65, t: 919, r: 204, b: 1008}, [[Z, wideBlack, '#000', 3], [Z, narrowPink, '#e8a1a6', 1.5]], dOpt);
cdfChart({l: 243, t: 919, r: 382, b: 1008}, [[Z, fitBlack, '#000', 3], [Z, fitPink, '#e8a1a6', 1.5]], dOpt);
cdfChart({l: 473, t: 629, r: 708, b: 771}, [
  [eNullX, eNullY, '#000', 3.5], [eAX, eAY, '#e3262b', 2], [eCX, eCY, '#22a455', 2], [eDX, eDY, '#2b8fd0', 1.5]
], {yw: 30, xh: 26, top: 8, right: 14, fs: 11, pad: 5, tl: 4, xt: xTickVals, yt: eYTickVals});

// ======================= PANEL E annotations =======================
(function () {
  const cv = mkCanvas(473, 629, 235, 142);
  const colors = {C: '#22a455', A: '#e3262b', B: '#2b8fd0', D: '#2b8fd0'};
  new Chart(cv, {
    type: 'scatter',
    data: {datasets: [{data: eLabelX.map((x, i) => ({x, y: eLabelY[i]})), pointRadius: 0}]},
    options: baseOpts(hiddenScales(-6, 6, 0, 1)),
    plugins: [{
      id: 'eLabels',
      afterDatasetsDraw(chart) {
        const ctx = chart.ctx;
        ctx.save(); ctx.font = "bold 20px Lato"; ctx.textAlign = 'center'; ctx.textBaseline = 'middle';
        eLabels.forEach((t, i) => {
          ctx.fillStyle = colors[t];
          ctx.fillText(t, chart.scales.x.getPixelForValue(eLabelX[i]), chart.scales.y.getPixelForValue(eLabelY[i]));
        });
        ctx.restore();
      }
    }]
  });
})();
</script>
</body>
</html>
